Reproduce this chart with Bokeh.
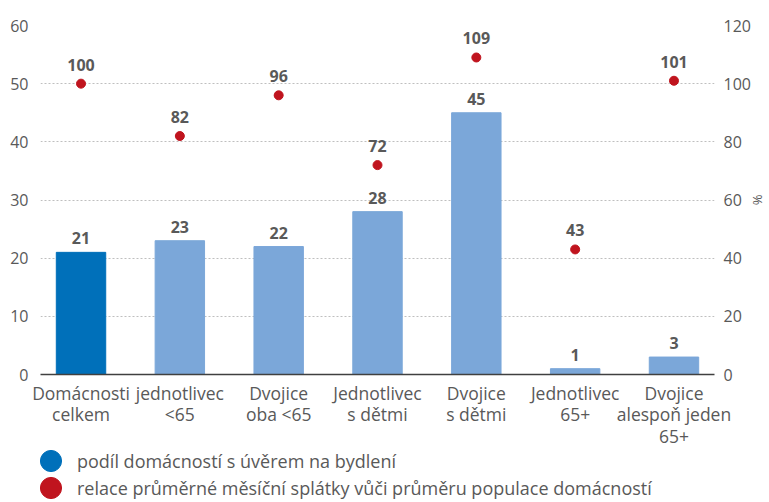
from bokeh.plotting import figure
from bokeh.models import (Range1d, LinearAxis, FixedTicker, ColumnDataSource,
                          Legend, LegendItem)
from bokeh.layouts import column
from bokeh.core.properties import value
from bokeh.embed import file_html
from bokeh.resources import INLINE

categories = ["Domácnosti\ncelkem", "jednotlivec\n<65", "Dvojice\noba <65",
              "Jednotlivec\ns dětmi", "Dvojice\ns dětmi", "Jednotlivec\n65+",
              "Dvojice\nalespoň jeden\n65+"]
share = [21, 23, 22, 28, 45, 1, 3]
relation = [100, 82, 96, 72, 109, 43, 101]
left_ticks = [0, 10, 20, 30, 40, 50, 60]
right_ticks = [0, 20, 40, 60, 80, 100, 120]
legend_labels = ["podíl domácností s úvěrem na bydlení",
                 "relace průměrné měsíční splátky vůči průměru populace domácností"]

DARK = "#0070BA"
LIGHT = "#7BA7D9"
RED = "#C0141E"
GREY = "#595959"
FONT = "Open Sans"

xs = list(range(len(categories)))
src = ColumnDataSource(dict(
    x=xs, share=share, relation=relation,
    share_lbl=[str(v) for v in share], rel_lbl=[str(v) for v in relation],
    color=[DARK] + [LIGHT] * (len(xs) - 1)))

p = figure(width=769, height=450, output_backend="svg", toolbar_location=None,
           x_range=Range1d(-0.41, 6.41), y_range=Range1d(0, 60),
           min_border_left=40, min_border_right=54, min_border_top=25,
           min_border_bottom=75)
p.outline_line_color = None
p.extra_y_ranges = {"pct": Range1d(0, 120)}

p.vbar(x="x", top="share", width=0.5, color="color", source=src)
p.scatter(x="x", y="relation", y_range_name="pct", size=9, color=RED, source=src)

p.text(x="x", y="share", text="share_lbl", source=src, text_align="center",
       text_baseline="middle", y_offset=-14, text_font=value(FONT),
       text_font_size="16px", text_font_style="bold", text_color=GREY)
p.text(x="x", y="relation", text="rel_lbl", y_range_name="pct", source=src,
       text_align="center", text_baseline="middle", y_offset=-19,
       text_font=value(FONT), text_font_size="16px", text_font_style="bold",
       text_color=GREY)

# axes
xa = p.xaxis[0]
xa.ticker = FixedTicker(ticks=xs)
xa.major_label_overrides = {i: c for i, c in enumerate(categories)}
xa.major_tick_line_color = None
xa.minor_tick_line_color = None
xa.axis_line_color = "#404040"
xa.axis_line_width = 1.5
xa.major_label_standoff = 0
xa.major_label_text_font = FONT
xa.major_label_text_font_size = "17.5px"
xa.major_label_text_color = GREY
xa.major_label_text_line_height = 0.9

ya = p.yaxis[0]
ya.ticker = FixedTicker(ticks=left_ticks)
ya.axis_line_color = None
ya.major_tick_line_color = None
ya.minor_tick_line_color = None
ya.major_label_standoff = 6
ya.major_label_text_font = FONT
ya.major_label_text_font_size = "16px"
ya.major_label_text_color = GREY

ra = LinearAxis(y_range_name="pct", ticker=FixedTicker(ticks=right_ticks),
                axis_label="%")
ra.axis_line_color = None
ra.major_tick_line_color = None
ra.minor_tick_line_color = None
ra.major_label_standoff = 3
ra.major_label_text_font = FONT
ra.major_label_text_font_size = "16px"
ra.major_label_text_color = GREY
ra.axis_label_text_font = FONT
ra.axis_label_text_font_size = "13px"
ra.axis_label_text_font_style = "normal"
ra.axis_label_text_color = GREY
ra.axis_label_standoff = -5
p.add_layout(ra, "right")

p.xgrid.grid_line_color = None
p.ygrid.ticker = FixedTicker(ticks=left_ticks[1:])
p.ygrid.grid_line_color = "#BFBFBF"
p.ygrid.grid_line_dash = "2 2"

# legend figure (two one-item legends so the markers can be large);
# its frame is aligned with the chart frame above (left edge at 40px)
lf = figure(width=769, height=52, output_backend="svg", toolbar_location=None,
            min_border=0, x_range=Range1d(0, 1), y_range=Range1d(0, 1))
lf.outline_line_color = None
lf.axis.visible = False
lf.grid.visible = False
lg1 = lf.scatter(x=[-5], y=[-5], size=21, color=DARK, marker="circle")
lg2 = lf.scatter(x=[-5], y=[-5], size=21, color=RED, marker="circle")
common = dict(orientation="vertical", glyph_width=53, glyph_height=53,
              label_standoff=-3, padding=0, margin=0, border_line_color=None,
              background_fill_alpha=0, label_text_font=FONT,
              label_text_font_size="18px", label_text_color=GREY)
leg1 = Legend(items=[LegendItem(label=legend_labels[0], renderers=[lg1])],
              location=(-16, 15), **common)
leg2 = Legend(items=[LegendItem(label=legend_labels[1], renderers=[lg2])],
              location=(-16, -12), **common)
lf.add_layout(leg1, "center")
lf.add_layout(leg2, "center")

open("out.html", "w").write(file_html(column(p, lf), INLINE))
